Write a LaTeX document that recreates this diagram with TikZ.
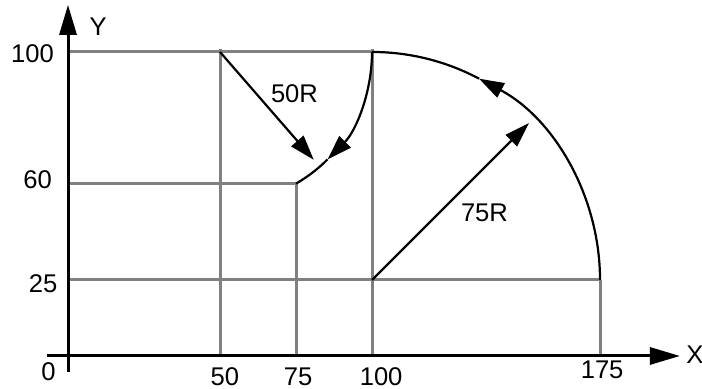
\documentclass[tikz,border=0pt]{standalone}
\usepackage{fontspec}
\setmainfont{Liberation Sans}
\usetikzlibrary{arrows.meta}

\begin{document}
\begin{tikzpicture}[x=1.52pt,y=1.52pt,>=Latex,
axis/.style={-{Triangle[length=15pt,width=8.5pt]},line width=1.5pt},
guide/.style={draw=gray,line width=1.5pt},
tool path/.style={line width=1.1pt},
flow/.style={-{Triangle[length=12.5pt,width=8pt]},line width=1.1pt},
dim label/.style={inner sep=0pt,font=\fontsize{12.8}{14}\selectfont}]
\useasboundingbox (-22.37,-10.86) rectangle (208.55,117.1);
\coordinate (x0) at (-6.9,0);
\coordinate (x1) at (201.3,0);
\coordinate (y0) at (0,-5.3);
\coordinate (y1) at (0,115.5);
\coordinate (c1) at (100,25);
\coordinate (c2) at (50,100);
\coordinate (p1) at (175,25);
\coordinate (p2) at (100,100);
\coordinate (p3) at (75,56.7);
\draw[guide] (0,100) -- (p2) (0,56.7) -- (p3) (0,25) -- (p1);
\draw[guide] (50,101) -- (50,0) (75,56.7) -- (75,0) (100,101) -- (100,0) (175,25) -- (175,0);
\draw[axis] (x0) -- (x1);
\draw[axis] (y0) -- (y1);
\draw[flow] (p1) arc[start angle=0,end angle=62,radius=75] coordinate (m1);
\draw[tool path] (m1) arc[start angle=62,end angle=90,radius=75];
\draw[flow] (p2) arc[start angle=0,end angle=-45,radius=50] coordinate (m2);
\draw[tool path] (m2) arc[start angle=-45,end angle=-60,radius=50];
\path (c2) ++(-49:47) coordinate (t2);
\draw[flow] (c2) -- (t2);
\path (c1) ++(45:73) coordinate (t1);
\draw[flow] (c1) -- (t1);
\node[dim label] (ly) at (9.9,108.2) {Y};
\node[dim label] (lx) at (206.2,0.3) {X};
\node[dim label] (l0) at (-6.4,-5.3) {0};
\node[dim label] (ly100) at (-11.7,99.3) {100};
\node[dim label] (ly60) at (-10,57.9) {60};
\node[dim label] (ly25) at (-8.2,23.7) {25};
\node[dim label] (lx50) at (51.6,-6.9) {50};
\node[dim label] (lx75) at (75.7,-6.9) {75};
\node[dim label] (lx100) at (103,-6.9) {100};
\node[dim label] (lx175) at (175.7,-4.6) {175};
\node[dim label] (r50) at (74.5,86.2) {50R};
\node[dim label] (r75) at (137,47) {75R};
\end{tikzpicture}
\end{document}
